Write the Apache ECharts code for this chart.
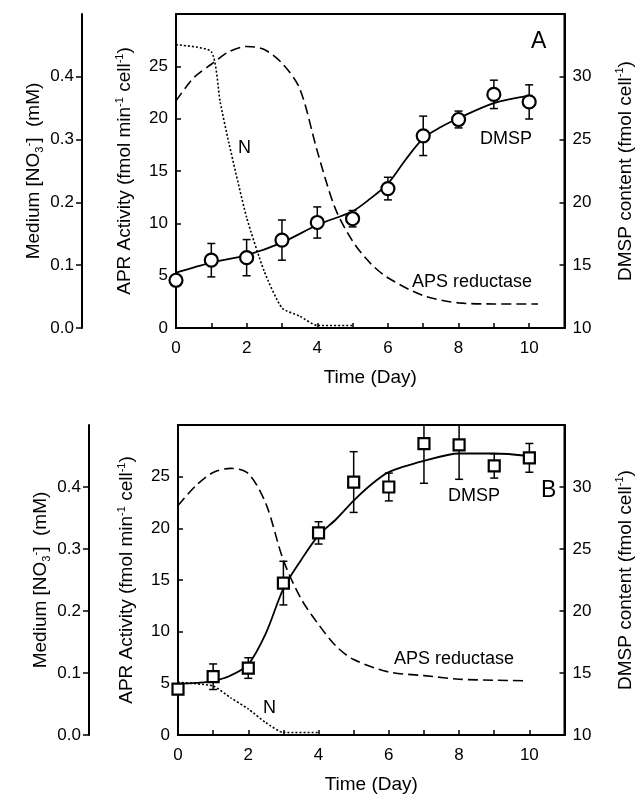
<!DOCTYPE html>
<html>
<head>
<meta charset="utf-8">
<script src="https://cdn.jsdelivr.net/npm/echarts@6/dist/echarts.min.js"></script>
<style>
html, body { margin: 0; padding: 0; background: #fff; }
#chart { width: 643px; height: 795px; }
</style>
</head>
<body>
<div id="chart"></div>
<script>
// sampling days
var days = [0, 1, 2, 3, 4, 5, 6, 7, 8, 9, 10];

// panel A - measured DMSP (fmol/cell) with error
var dmspA = [13.8, 15.4, 15.6, 17.0, 18.4, 18.7, 21.1, 25.3, 26.6, 28.6, 28.0];
var dmspErrA = [0.3, 1.33, 1.44, 1.6, 1.24, 0.65, 0.9, 1.57, 0.67, 1.13, 1.36];
// panel A - fitted DMSP curve
var fitDaysA = [0, 1, 2, 3, 4, 5, 5.5, 6, 6.5, 7, 7.5, 8, 9, 10];
var fitA = [14.4, 15.2, 15.8, 16.8, 18.2, 19.3, 20.3, 21.5, 23.4, 25.1, 26.0, 26.7, 27.9, 28.5];
// panel A - APS reductase activity
var apsDaysA = [0, 0.5, 1, 1.5, 2, 2.5, 3, 3.5, 4, 4.5, 5, 5.5, 6, 7, 8, 9, 10.25];
var apsA = [21.7, 23.9, 25.2, 26.4, 26.9, 26.6, 25.3, 22.9, 16.9, 11.5, 8.3, 6.2, 4.8, 3.1, 2.4, 2.3, 2.3];
// panel A - medium nitrate (mM)
var nDaysA = [0, 1, 1.25, 1.5, 2, 2.5, 3, 3.5, 4, 5];
var nA = [0.451, 0.44, 0.36, 0.294, 0.176, 0.09, 0.032, 0.019, 0.004, 0.004];

// panel B
var dmspB = [13.7, 14.7, 15.4, 22.25, 26.3, 30.4, 30.0, 33.5, 33.4, 31.7, 32.35];
var dmspErrB = [0.3, 1.03, 0.83, 1.76, 0.9, 2.45, 1.12, 3.2, 2.78, 0.98, 1.16];
var fitDaysB = [0, 0.5, 1, 1.5, 2, 2.5, 3, 3.5, 4, 4.5, 5, 5.5, 6, 7, 8, 9, 10];
var fitB = [14.1, 14.2, 14.35, 14.8, 15.7, 18.2, 21.8, 24.1, 26.1, 27.4, 28.9, 30.2, 31.2, 32.1, 32.7, 32.7, 32.5];
var apsDaysB = [0, 0.5, 1, 1.5, 2, 2.5, 3, 3.5, 4, 4.5, 5, 6, 7, 8, 9, 9.9];
var apsB = [22.2, 24.1, 25.4, 25.8, 25.3, 22.4, 16.9, 13.2, 10.7, 8.6, 7.3, 6.1, 5.75, 5.4, 5.3, 5.25];
var nDaysB = [0, 1, 1.5, 2, 2.5, 3, 4];
var nB = [0.085, 0.079, 0.06, 0.042, 0.02, 0.004, 0.004];

var FONT = "'Liberation Sans', Arial, sans-serif";

function pairs(xs, ys) {
	var out = [];
	for (var i = 0; i < xs.length; i++) out.push([xs[i], ys[i]]);
	return out;
}
function errData(ys, errs) {
	var out = [];
	for (var i = 0; i < ys.length; i++) out.push([days[i], ys[i] - errs[i], ys[i] + errs[i]]);
	return out;
}
function renderErr(params, api) {
	var lo = api.coord([api.value(0), api.value(1)]);
	var hi = api.coord([api.value(0), api.value(2)]);
	var w = 4;
	var st = { stroke: '#000', lineWidth: 1.5 };
	return {
		type: 'group',
		children: [
			{ type: 'line', shape: { x1: lo[0], y1: lo[1], x2: hi[0], y2: hi[1] }, style: st },
			{ type: 'line', shape: { x1: lo[0] - w, y1: lo[1], x2: lo[0] + w, y2: lo[1] }, style: st },
			{ type: 'line', shape: { x1: hi[0] - w, y1: hi[1], x2: hi[0] + w, y2: hi[1] }, style: st }
		]
	};
}

var tickFont = { color: '#000', fontSize: 17, fontFamily: FONT };
var richName = {
	t: { fontSize: 19, fontFamily: FONT, color: '#000', lineHeight: 22 },
	s: { fontSize: 11, fontFamily: FONT, color: '#000', verticalAlign: 'top', lineHeight: 11 },
	b: { fontSize: 11, fontFamily: FONT, color: '#000', verticalAlign: 'bottom', lineHeight: 11 }
};

function xAxisFor(gi) {
	return {
		gridIndex: gi, type: 'value', min: 0, max: 11, interval: 1,
		name: 'Time (Day)', nameLocation: 'middle', nameGap: 40,
		nameTextStyle: { fontSize: 19, fontFamily: FONT, color: '#000' },
		axisLine: { lineStyle: { color: '#000', width: 2 } },
		axisTick: { inside: true, length: 5, lineStyle: { color: '#000', width: 1.5 } },
		axisLabel: Object.assign({ margin: 12, showMaxLabel: false,
			formatter: function (v) { return v % 2 === 0 ? String(v) : ''; } }, tickFont),
		splitLine: { show: false }
	};
}
function aprAxis(gi) {
	return {
		gridIndex: gi, type: 'value', position: 'left', min: 0, max: 30, interval: 5,
		name: '{t|APR Activity (fmol min}{s|-1}{t| cell}{s|-1}{t|)}',
		nameLocation: 'middle', nameRotate: 90, nameGap: 40,
		nameTextStyle: { rich: richName },
		axisLine: { show: true, lineStyle: { color: '#000', width: 2 } },
		axisTick: { show: true, inside: true, length: 5, lineStyle: { color: '#000', width: 1.5 } },
		axisLabel: Object.assign({ margin: 8, showMaxLabel: false }, tickFont),
		splitLine: { show: false }
	};
}
function dmspAxis(gi) {
	return {
		gridIndex: gi, type: 'value', position: 'right', min: 10, max: 35, interval: 5,
		name: '{t|DMSP content (fmol cell}{s|-1}{t|)}',
		nameLocation: 'middle', nameRotate: 90, nameGap: 50,
		nameTextStyle: { rich: richName },
		axisLine: { show: true, lineStyle: { color: '#000', width: 2 } },
		axisTick: { show: true, inside: true, length: 5, lineStyle: { color: '#000', width: 1.5 } },
		axisLabel: Object.assign({ margin: 8, showMaxLabel: false }, tickFont),
		splitLine: { show: false }
	};
}
function no3Axis(gi, off) {
	return {
		gridIndex: gi, type: 'value', position: 'left', offset: off, min: 0, max: 0.5, interval: 0.1,
		name: '{t|Medium [NO}{b|3}{s|-}{t|]  (mM)}',
		nameLocation: 'middle', nameRotate: 90, nameGap: 37, nameMoveOverlap: false,
		nameTextStyle: { rich: richName },
		axisLine: { show: true, lineStyle: { color: '#000', width: 2 } },
		axisTick: { show: true, inside: false, length: 6, lineStyle: { color: '#000', width: 1.5 } },
		axisLabel: Object.assign({ margin: 8, showMaxLabel: false,
			formatter: function (v) { return v.toFixed(1); } }, tickFont),
		splitLine: { show: false }
	};
}

var chart = echarts.init(document.getElementById('chart'));

var option = {
	backgroundColor: '#fff',
	animation: false,
	grid: [
		{ left: 176, top: 14, width: 392, height: 314, show: true, borderColor: '#000', borderWidth: 2 },
		{ left: 178, top: 425, width: 393, height: 312, show: true, borderColor: '#000', borderWidth: 2 }
	],
	xAxis: [xAxisFor(0), xAxisFor(1)],
	yAxis: [aprAxis(0), dmspAxis(0), no3Axis(0, 94), aprAxis(1), dmspAxis(1), no3Axis(1, 89)],
	series: [
		{ name: 'APS reductase A', type: 'line', xAxisIndex: 0, yAxisIndex: 0, data: pairs(apsDaysA, apsA),
		  smooth: 0.3, showSymbol: false,
		  lineStyle: { color: '#000', width: 1.6, type: [10, 5] } },
		{ name: 'N A', type: 'line', xAxisIndex: 0, yAxisIndex: 2, data: pairs(nDaysA, nA),
		  smooth: 0.2, showSymbol: false,
		  lineStyle: { color: '#000', width: 1.6, type: [2, 2] } },
		{ name: 'DMSP fit A', type: 'line', xAxisIndex: 0, yAxisIndex: 1, data: pairs(fitDaysA, fitA),
		  smooth: 0.3, showSymbol: false,
		  lineStyle: { color: '#000', width: 1.8 } },
		{ name: 'DMSP err A', type: 'custom', xAxisIndex: 0, yAxisIndex: 1, data: errData(dmspA, dmspErrA),
		  renderItem: renderErr, clip: true, z: 3 },
		{ name: 'DMSP A', type: 'scatter', xAxisIndex: 0, yAxisIndex: 1, data: pairs(days, dmspA),
		  symbol: 'circle', symbolSize: 13, z: 4,
		  itemStyle: { color: '#fff', opacity: 1, borderColor: '#000', borderWidth: 2.2 } },

		{ name: 'APS reductase B', type: 'line', xAxisIndex: 1, yAxisIndex: 3, data: pairs(apsDaysB, apsB),
		  smooth: 0.3, showSymbol: false,
		  lineStyle: { color: '#000', width: 1.6, type: [10, 5] } },
		{ name: 'N B', type: 'line', xAxisIndex: 1, yAxisIndex: 5, data: pairs(nDaysB, nB),
		  smooth: 0.2, showSymbol: false,
		  lineStyle: { color: '#000', width: 1.6, type: [2, 2] } },
		{ name: 'DMSP fit B', type: 'line', xAxisIndex: 1, yAxisIndex: 4, data: pairs(fitDaysB, fitB),
		  smooth: 0.3, showSymbol: false,
		  lineStyle: { color: '#000', width: 1.8 } },
		{ name: 'DMSP err B', type: 'custom', xAxisIndex: 1, yAxisIndex: 4, data: errData(dmspB, dmspErrB),
		  renderItem: renderErr, clip: true, z: 3 },
		{ name: 'DMSP B', type: 'scatter', xAxisIndex: 1, yAxisIndex: 4, data: pairs(days, dmspB),
		  symbol: 'rect', symbolSize: 11, z: 4,
		  itemStyle: { color: '#fff', opacity: 1, borderColor: '#000', borderWidth: 2.2 } }
	],
	graphic: [
		{ type: 'text', left: 531, top: 30, style: { text: 'A', fontSize: 23, fontFamily: FONT, fill: '#000' } },
		{ type: 'text', left: 480, top: 130, style: { text: 'DMSP', fontSize: 18, fontFamily: FONT, fill: '#000' } },
		{ type: 'text', left: 412, top: 273, style: { text: 'APS reductase', fontSize: 18, fontFamily: FONT, fill: '#000' } },
		{ type: 'text', left: 238, top: 139, style: { text: 'N', fontSize: 18, fontFamily: FONT, fill: '#000' } },
		{ type: 'text', left: 541, top: 479, style: { text: 'B', fontSize: 23, fontFamily: FONT, fill: '#000' } },
		{ type: 'text', left: 448, top: 487, style: { text: 'DMSP', fontSize: 18, fontFamily: FONT, fill: '#000' } },
		{ type: 'text', left: 394, top: 650, style: { text: 'APS reductase', fontSize: 18, fontFamily: FONT, fill: '#000' } },
		{ type: 'text', left: 263, top: 699, style: { text: 'N', fontSize: 18, fontFamily: FONT, fill: '#000' } }
	]
};

chart.setOption(option);
</script>
</body>
</html>
